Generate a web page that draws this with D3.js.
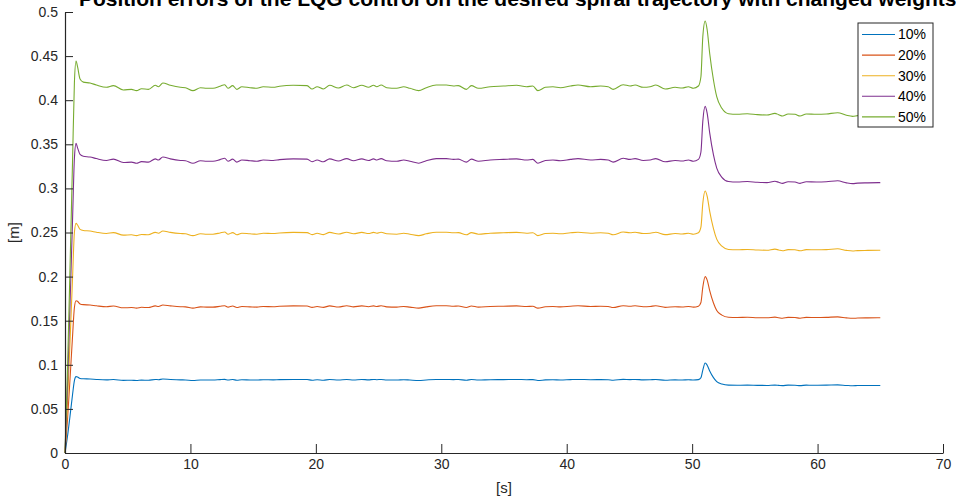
<!DOCTYPE html>
<html>
<head>
<meta charset="utf-8">
<script src="https://cdn.jsdelivr.net/npm/d3@7"></script>
<style>
  body { margin: 0; background: #fff; }
  svg { display: block; font-family: "Liberation Sans", Arial, sans-serif; }
  .tick text { font-size: 14px; fill: #262626; }
  .tick line, .domain { stroke: #262626; }
</style>
</head>
<body>
<svg id="chart"></svg>
<script>
const title = "Position errors of the LQG control on the desired spiral trajectory with changed weights"
const seriesNames = ["10%", "20%", "30%", "40%", "50%"]
const colors = ["#0072BD", "#D95319", "#EDB120", "#7E2F8E", "#77AC30"]
const xTicks = [0, 10, 20, 30, 40, 50, 60, 70]
const yTicks = [0, 0.05, 0.1, 0.15, 0.2, 0.25, 0.3, 0.35, 0.4, 0.45, 0.5]

const time = [0, 0.2, 0.4, 0.6, 0.75, 0.88, 1.0, 1.2, 1.46, 2.0, 2.5, 3.3, 3.86, 4.65, 5.3, 5.7, 6.1, 6.65, 7.2, 7.45, 7.8, 8.4, 9.2, 9.6, 10.2, 10.8, 11.3, 11.8, 12.36, 12.73, 13.0, 13.37, 13.7, 14.1, 14.75, 15.3, 15.8, 16.6, 17.1, 18.2, 19.3, 19.7, 20.1, 20.6, 21.1, 21.8, 22.46, 23.0, 23.66, 24.2, 24.6, 24.86, 25.2, 25.65, 26.45, 27.0, 27.5, 28.2, 28.8, 29.6, 30.4, 30.97, 31.36, 32.0, 32.4, 32.96, 33.9, 34.95, 36.0, 36.8, 37.3, 37.7, 38.3, 38.9, 39.5, 40.3, 40.9, 41.9, 42.7, 43.3, 43.7, 44.5, 45.05, 45.45, 46.1, 46.65, 47.1, 47.85, 48.64, 49.2, 49.7, 50.1, 50.5, 50.7, 50.85, 51.04, 51.2, 51.4, 51.7, 51.96, 52.37, 52.9, 53.6, 54.4, 55.2, 55.96, 56.6, 56.9, 57.2, 57.65, 58.2, 58.6, 59.1, 59.9, 60.7, 61.6, 62.3, 62.8, 63.2, 64.0, 65.0]

const err10 = [0, 0.019, 0.042, 0.066, 0.082, 0.0866, 0.0862, 0.0845, 0.0841, 0.0839, 0.0834, 0.0829, 0.0833, 0.0823, 0.0825, 0.0822, 0.0826, 0.0825, 0.0834, 0.0831, 0.0839, 0.0834, 0.0829, 0.0828, 0.0822, 0.0828, 0.0827, 0.0827, 0.0832, 0.0835, 0.0827, 0.0833, 0.0825, 0.0831, 0.0828, 0.0827, 0.0831, 0.0829, 0.0832, 0.0834, 0.0833, 0.0825, 0.0831, 0.0825, 0.0834, 0.0828, 0.0834, 0.0828, 0.0834, 0.0829, 0.0834, 0.0831, 0.0834, 0.0828, 0.0827, 0.0831, 0.0827, 0.0822, 0.0828, 0.0834, 0.0834, 0.0832, 0.0833, 0.0825, 0.0833, 0.0827, 0.0831, 0.0832, 0.0834, 0.0831, 0.0832, 0.0822, 0.0829, 0.0831, 0.0828, 0.0832, 0.0834, 0.0831, 0.0832, 0.0831, 0.0825, 0.0835, 0.0832, 0.0834, 0.0829, 0.0831, 0.0834, 0.0825, 0.0829, 0.0828, 0.0831, 0.0827, 0.0832, 0.0853, 0.094, 0.102, 0.0995, 0.093, 0.0855, 0.081, 0.0782, 0.0769, 0.0768, 0.0769, 0.0767, 0.0766, 0.077, 0.0767, 0.0764, 0.0769, 0.0768, 0.0764, 0.0769, 0.0768, 0.0769, 0.0772, 0.0766, 0.0763, 0.0765, 0.0766, 0.0766]

const err20 = [0, 0.038, 0.084, 0.132, 0.165, 0.1727, 0.172, 0.169, 0.1682, 0.1678, 0.1669, 0.1658, 0.1666, 0.1646, 0.1649, 0.1643, 0.1652, 0.1649, 0.1668, 0.1661, 0.1678, 0.1668, 0.1658, 0.1657, 0.1643, 0.1657, 0.1654, 0.1654, 0.1663, 0.167, 0.1654, 0.1666, 0.1649, 0.1661, 0.1657, 0.1654, 0.1661, 0.1658, 0.1663, 0.1668, 0.1666, 0.1651, 0.1661, 0.1651, 0.1668, 0.1655, 0.1669, 0.1657, 0.1668, 0.1658, 0.1668, 0.1661, 0.1669, 0.1657, 0.1654, 0.1661, 0.1654, 0.1643, 0.1657, 0.1669, 0.1669, 0.1664, 0.1666, 0.1649, 0.1666, 0.1654, 0.1661, 0.1664, 0.1668, 0.1661, 0.1664, 0.1643, 0.1658, 0.1661, 0.1657, 0.1664, 0.1669, 0.1661, 0.1664, 0.1661, 0.1649, 0.167, 0.1664, 0.1669, 0.1658, 0.1661, 0.1669, 0.1651, 0.1658, 0.1655, 0.1661, 0.1654, 0.1664, 0.1706, 0.188, 0.2, 0.196, 0.184, 0.17, 0.1615, 0.1563, 0.1539, 0.1536, 0.1539, 0.1534, 0.1533, 0.154, 0.1534, 0.1528, 0.1538, 0.1536, 0.1528, 0.1538, 0.1536, 0.1538, 0.1543, 0.1532, 0.1527, 0.153, 0.1532, 0.1533]

const err30 = [0, 0.057, 0.126, 0.198, 0.25, 0.2604, 0.2585, 0.2535, 0.2523, 0.2517, 0.2503, 0.2488, 0.2499, 0.247, 0.2474, 0.2465, 0.2478, 0.2474, 0.2501, 0.2492, 0.2517, 0.2501, 0.2488, 0.2485, 0.2465, 0.2485, 0.2481, 0.2481, 0.2495, 0.2506, 0.2481, 0.2499, 0.2474, 0.2492, 0.2485, 0.2481, 0.2492, 0.2488, 0.2495, 0.2501, 0.2499, 0.2476, 0.2492, 0.2476, 0.2501, 0.2483, 0.2503, 0.2485, 0.2501, 0.2488, 0.2501, 0.2492, 0.2503, 0.2485, 0.2481, 0.2492, 0.2481, 0.2465, 0.2485, 0.2503, 0.2503, 0.2497, 0.2499, 0.2474, 0.2499, 0.2481, 0.2492, 0.2497, 0.2501, 0.2492, 0.2497, 0.2465, 0.2488, 0.2492, 0.2485, 0.2497, 0.2503, 0.2492, 0.2497, 0.2492, 0.2474, 0.2506, 0.2497, 0.2503, 0.2488, 0.2492, 0.2503, 0.2476, 0.2488, 0.2483, 0.2492, 0.2481, 0.2497, 0.256, 0.283, 0.297, 0.291, 0.274, 0.2545, 0.2425, 0.2345, 0.2308, 0.2304, 0.2308, 0.2302, 0.2299, 0.2311, 0.2302, 0.2293, 0.2306, 0.2304, 0.2293, 0.2306, 0.2304, 0.2306, 0.2315, 0.2297, 0.229, 0.2295, 0.2297, 0.2299]

const err40 = [0, 0.076, 0.168, 0.264, 0.334, 0.3511, 0.346, 0.3385, 0.3364, 0.3356, 0.3338, 0.3317, 0.3332, 0.3293, 0.3298, 0.3286, 0.3304, 0.3298, 0.3335, 0.3322, 0.3356, 0.3335, 0.3317, 0.3314, 0.3286, 0.3314, 0.3308, 0.3308, 0.3326, 0.3341, 0.3308, 0.3332, 0.3298, 0.3322, 0.3314, 0.3308, 0.3322, 0.3317, 0.3326, 0.3335, 0.3332, 0.3302, 0.3322, 0.3302, 0.3335, 0.331, 0.3338, 0.3314, 0.3335, 0.3317, 0.3335, 0.3322, 0.3338, 0.3314, 0.3308, 0.3322, 0.3308, 0.3286, 0.3314, 0.3338, 0.3338, 0.3329, 0.3332, 0.3298, 0.3332, 0.3308, 0.3322, 0.3329, 0.3335, 0.3322, 0.3329, 0.3286, 0.3317, 0.3322, 0.3314, 0.3329, 0.3338, 0.3322, 0.3329, 0.3322, 0.3298, 0.3341, 0.3329, 0.3338, 0.3317, 0.3322, 0.3338, 0.3302, 0.3317, 0.331, 0.3322, 0.3308, 0.3329, 0.3413, 0.376, 0.393, 0.385, 0.363, 0.338, 0.323, 0.3126, 0.3078, 0.3072, 0.3078, 0.3069, 0.3066, 0.3081, 0.3069, 0.3057, 0.3075, 0.3072, 0.3057, 0.3075, 0.3072, 0.3075, 0.3086, 0.3063, 0.3054, 0.306, 0.3063, 0.3066]

const err50 = [0, 0.095, 0.21, 0.33, 0.42, 0.4444, 0.438, 0.424, 0.4205, 0.4195, 0.4172, 0.4146, 0.4165, 0.4116, 0.4123, 0.4108, 0.413, 0.4123, 0.4169, 0.4153, 0.4195, 0.4169, 0.4146, 0.4142, 0.4108, 0.4142, 0.4135, 0.4135, 0.4158, 0.4176, 0.4135, 0.4165, 0.4123, 0.4153, 0.4142, 0.4135, 0.4153, 0.4146, 0.4158, 0.4169, 0.4165, 0.4127, 0.4153, 0.4127, 0.4169, 0.4138, 0.4172, 0.4142, 0.4169, 0.4146, 0.4169, 0.4153, 0.4172, 0.4142, 0.4135, 0.4153, 0.4135, 0.4108, 0.4142, 0.4172, 0.4172, 0.4161, 0.4165, 0.4123, 0.4165, 0.4135, 0.4153, 0.4161, 0.4169, 0.4153, 0.4161, 0.4108, 0.4146, 0.4153, 0.4142, 0.4161, 0.4172, 0.4153, 0.4161, 0.4153, 0.4123, 0.4176, 0.4161, 0.4172, 0.4146, 0.4153, 0.4172, 0.4127, 0.4146, 0.4138, 0.4153, 0.4135, 0.4161, 0.4266, 0.472, 0.4898, 0.4796, 0.453, 0.4229, 0.404, 0.3908, 0.3847, 0.384, 0.3847, 0.3836, 0.3832, 0.3851, 0.3836, 0.3821, 0.3844, 0.384, 0.3821, 0.3844, 0.384, 0.3844, 0.3858, 0.3829, 0.3817, 0.3825, 0.3829, 0.3832]

const drawChart = () => {
  const series = [err10, err20, err30, err40, err50].map((values, i) => ({
    name: seriesNames[i],
    color: colors[i],
    points: values.map((v, j) => ({ t: time[j], v })),
  }))

  // dimensions
  const dimensions = {
    width: 956,
    height: 503,
    margin: { top: 12, bottom: 50, right: 13, left: 65 },
  }
  dimensions.boundedWidth =
    dimensions.width - dimensions.margin.left - dimensions.margin.right
  dimensions.boundedHeight =
    dimensions.height - dimensions.margin.top - dimensions.margin.bottom

  const wrapper = d3
    .select("#chart")
    .attr("width", dimensions.width)
    .attr("height", dimensions.height)

  const bounds = wrapper
    .append("g")
    .attr("transform", `translate(${dimensions.margin.left},${dimensions.margin.top})`)

  // scales
  const xScale = d3.scaleLinear().domain([0, 70]).range([0, dimensions.boundedWidth])
  const yScale = d3.scaleLinear().domain([0, 0.5]).range([dimensions.boundedHeight, 0])

  // lines
  const lineGenerator = d3
    .line()
    .x((d) => xScale(d.t))
    .y((d) => yScale(d.v))
    .curve(d3.curveMonotoneX)

  bounds
    .selectAll(".series")
    .data(series)
    .join("path")
    .attr("class", "series")
    .attr("fill", "none")
    .attr("stroke", (d) => d.color)
    .attr("stroke-width", 1.1)
    .attr("d", (d) => lineGenerator(d.points))

  // axes
  const xAxisGenerator = d3
    .axisBottom(xScale)
    .tickValues(xTicks)
    .tickSizeInner(-9)
    .tickSizeOuter(0)
    .tickPadding(6)
  bounds
    .append("g")
    .attr("transform", `translate(0,${dimensions.boundedHeight})`)
    .call(xAxisGenerator)

  const yAxisGenerator = d3
    .axisLeft(yScale)
    .tickValues(yTicks)
    .tickFormat(d3.format("~g"))
    .tickSizeInner(-8)
    .tickSizeOuter(0)
    .tickPadding(7)
  bounds.append("g").call(yAxisGenerator)

  wrapper.selectAll(".domain").attr("stroke-width", 1.2)

  // labels
  wrapper
    .append("text")
    .attr("x", dimensions.margin.left + dimensions.boundedWidth / 2)
    .attr("y", 493)
    .attr("text-anchor", "middle")
    .attr("font-size", 15)
    .attr("fill", "#262626")
    .text("[s]")

  wrapper
    .append("text")
    .attr("transform", `translate(19,${dimensions.margin.top + dimensions.boundedHeight / 2}) rotate(-90)`)
    .attr("text-anchor", "middle")
    .attr("font-size", 15)
    .attr("fill", "#262626")
    .text("[m]")

  // title runs past the top and right edges, as in the source figure
  wrapper
    .append("text")
    .attr("x", 79)
    .attr("y", 6)
    .attr("font-size", 21)
    .attr("font-weight", "bold")
    .attr("fill", "#000")
    .text(title)

  // legend
  const legend = wrapper.append("g").attr("transform", "translate(858,23)")
  legend
    .append("rect")
    .attr("width", 75)
    .attr("height", 104)
    .attr("fill", "#fff")
    .attr("stroke", "#262626")
    .attr("stroke-width", 1)

  const rows = legend
    .selectAll(".row")
    .data(series)
    .join("g")
    .attr("class", "row")
    .attr("transform", (d, i) => `translate(0,${11.5 + i * 20.6})`)

  rows
    .append("line")
    .attr("x1", 4)
    .attr("x2", 37)
    .attr("stroke", (d) => d.color)
    .attr("stroke-width", 1.1)

  rows
    .append("text")
    .attr("x", 40)
    .attr("dy", "0.35em")
    .attr("font-size", 14)
    .attr("fill", "#000")
    .text((d) => d.name)
}

drawChart()
</script>
</body>
</html>
